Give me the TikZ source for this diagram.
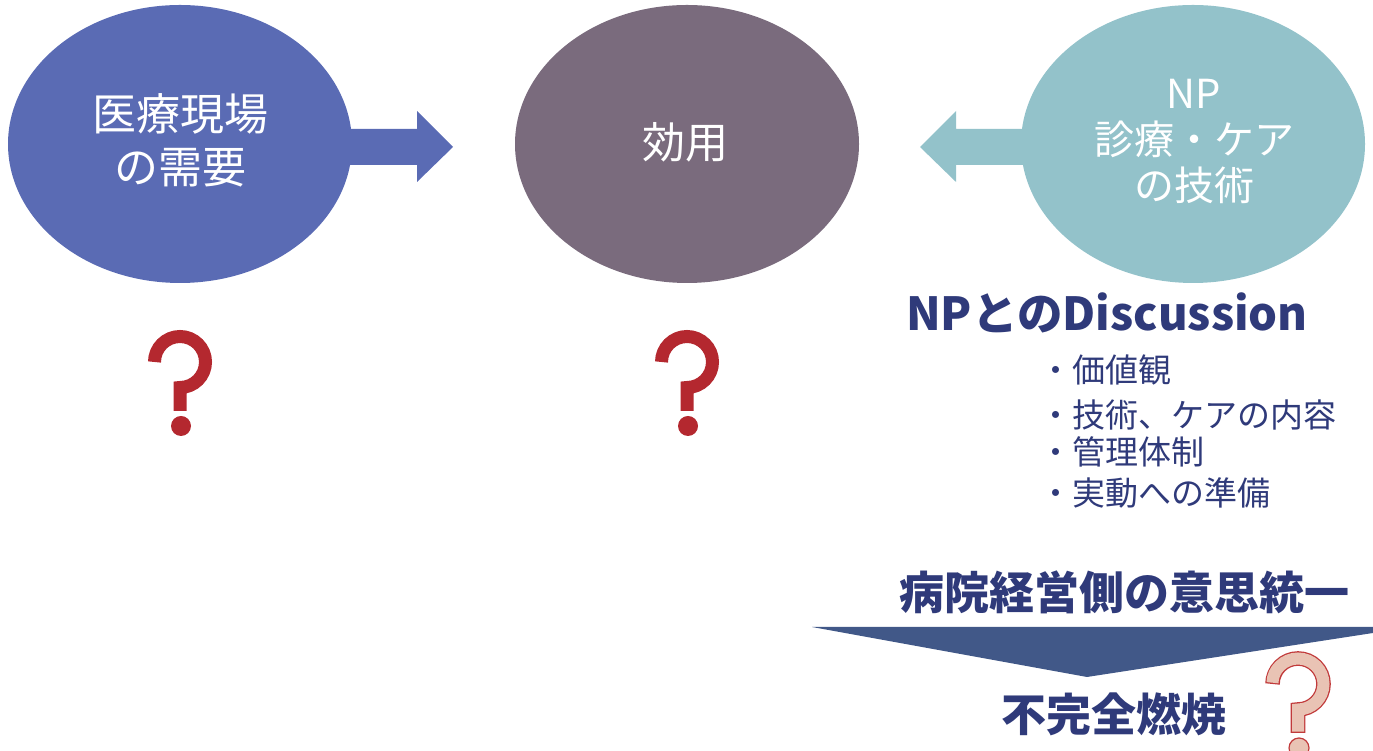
\documentclass[tikz,border=0pt]{standalone}
\usepackage{fontspec}
\setmainfont{Noto Sans CJK JP}
\usetikzlibrary{shapes.geometric}
\definecolor{cA}{RGB}{90,107,180}
\definecolor{cB}{RGB}{122,107,125}
\definecolor{cC}{RGB}{147,194,202}
\definecolor{navyc}{RGB}{47,58,122}
\definecolor{tri}{RGB}{65,88,136}
\definecolor{qred}{RGB}{180,40,47}
\definecolor{qpink}{RGB}{233,195,180}
\definecolor{qline}{RGB}{193,58,59}
\tikzset{
  ell/.style={ellipse, minimum width=344pt, minimum height=278pt, inner sep=0pt, draw=none},
  wtxt/.style={text=white, align=center, inner sep=0pt},
  ntxt/.style={text=navyc, inner sep=0pt},
  bigb/.style={ntxt, font=\bfseries\fontsize{45}{50}\selectfont},
  item/.style={ntxt, anchor=west, font=\fontsize{33}{40}\selectfont},
  pics/qredmark/.style={code={
    \draw[qred, line width=13pt] (-25.5,0) arc[start angle=180, end angle=-90, radius=25.5pt] -- (0,-49);
    \fill[qred] (1,-64) circle[radius=10pt];
  }},
  pics/qpinkmark/.style={code={
    \draw[qline, line width=14.6pt] (-25.5,0) arc[start angle=180, end angle=-90, radius=25.5pt] -- (0,-49);
    \draw[qpink, line width=12pt, shorten <=1.3pt, shorten >=1.3pt] (-25.5,0) arc[start angle=180, end angle=-90, radius=25.5pt] -- (0,-49);
    \filldraw[fill=qpink, draw=qline, line width=1.2pt] (1,-64) circle[radius=10pt];
  }}
}
\begin{document}
\begin{tikzpicture}[x=1pt,y=1pt]
\useasboundingbox (0,0) rectangle (1373,751);
% ellipses
\node[ell, fill=cA] (need) at (180,607) {};
\node[ell, fill=cB] (util) at (687,607) {};
\node[ell, fill=cC] (tech) at (1193,607) {};
% block arrows
\fill[cA] (330,622) -- (417,622) -- (417,640) -- (453,604) -- (417,569) -- (417,586) -- (330,586) -- cycle;
\fill[cC] (1040,622) -- (956,622) -- (956,640) -- (920,604) -- (956,569) -- (956,586) -- (1040,586) -- cycle;
% ellipse texts
\node[wtxt, font=\fontsize{44}{53}\selectfont] (needt) at (180,610.5) {医療現場\\の需要};
\node[wtxt, font=\fontsize{43}{52}\selectfont] (utilt) at (685,609) {効用};
\node[wtxt, font=\fontsize{40}{46}\selectfont] (techt) at (1194,610) {NP\\診療・ケア\\の技術};
% question marks
\pic at (180,389) {qredmark};
\pic at (687,389) {qredmark};
% discussion
\node[bigb, anchor=west, font=\bfseries\fontsize{45.5}{50}\selectfont] (disc) at (906,438) {NPとのDiscussion};
\node[item] (i1) at (1039,381) {・価値観};
\node[item] (i2) at (1039,336) {・技術、ケアの内容};
\node[item] (i3) at (1039,299) {・管理体制};
\node[item] (i4) at (1039,258) {・実動への準備};
% management
\node[bigb] (mgmt) at (1124.5,159) {病院経営側の意思統一};
\fill[tri] (812,124) -- (1373,124) -- (1373,118) -- (1087,74) -- cycle;
\node[bigb] (burn) at (1113.5,37) {不完全燃焼};
\pic at (1298,67) {qpinkmark};
\end{tikzpicture}
\end{document}
